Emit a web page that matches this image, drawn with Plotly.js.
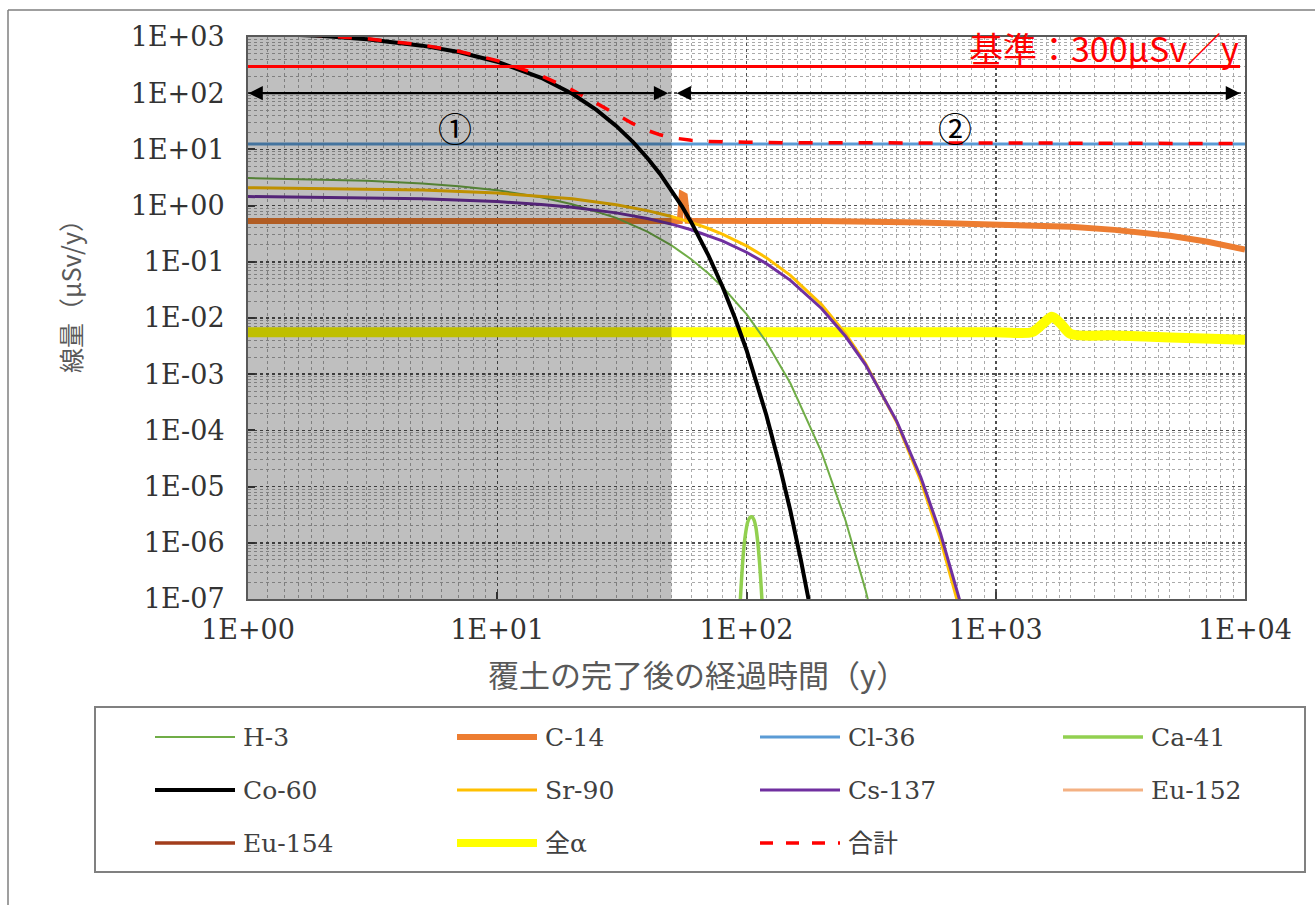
<!DOCTYPE html>
<html>
<head>
<meta charset="utf-8">
<script src="https://cdn.plot.ly/plotly-3.0.1.min.js"></script>
<style>
  html, body { margin: 0; padding: 0; background: #ffffff; }
  #chart { width: 1315px; height: 905px; }
</style>
</head>
<body>
<div id="chart"></div>
<script>
// Dose (μSv/y) versus years elapsed after completion of the soil cover.

const h3Years = [1, 2, 3, 5, 7, 10, 15, 20, 30, 40, 50, 60, 70, 80, 100, 120, 150, 200, 250, 300, 330];
const h3Dose = [3.10, 2.93, 2.77, 2.47, 2.21, 1.87, 1.41, 1.06, 0.604, 0.344, 0.196, 0.111, 0.0633, 0.036, 0.0117, 3.77e-3, 6.9e-4, 4.1e-5, 2.45e-6, 1.47e-7, 2.7e-8];

const c14Years = [1, 10, 50, 54, 55, 56.5, 58, 100, 200, 500, 1000, 2000, 3000, 5000, 7000, 10000];
const c14Dose = [0.53, 0.53, 0.53, 0.53, 1.6, 1.5, 0.54, 0.54, 0.53, 0.50, 0.47, 0.42, 0.37, 0.29, 0.23, 0.165];

const cl36Years = [1, 10000];
const cl36Dose = [12.5, 12.5];

const ca41Years = [93, 95, 97, 99, 101, 103, 105, 107, 109, 111, 113, 115, 117];
const ca41Dose = [3e-8, 1.5e-7, 6e-7, 1.4e-6, 2.3e-6, 2.8e-6, 2.9e-6, 2.6e-6, 1.9e-6, 1.0e-6, 4e-7, 1.2e-7, 3e-8];

const co60Years = [1, 2, 3, 5, 7, 10, 15, 20, 25, 30, 35, 40, 45, 50, 55, 60, 70, 80, 90, 100, 110, 120, 135, 150, 165, 180, 200];
const co60Dose = [1187, 1041, 913, 702, 539, 363, 188, 97.6, 50.5, 26.2, 13.6, 7.05, 3.65, 1.89, 0.98, 0.508, 0.136, 0.0367, 0.0099, 0.0027, 7.1e-4, 1.9e-4, 2.6e-5, 3.7e-6, 5.1e-7, 7.1e-8, 3.8e-9];

const sr90Years = [1, 3, 5, 10, 15, 20, 30, 40, 50, 60, 70, 80, 100, 120, 150, 200, 250, 300, 400, 500, 600, 700, 750];
const sr90Dose = [2.08, 1.98, 1.89, 1.67, 1.48, 1.32, 1.035, 0.813, 0.639, 0.503, 0.395, 0.311, 0.192, 0.1185, 0.0575, 0.0173, 5.2e-3, 1.56e-3, 1.41e-4, 1.27e-5, 1.14e-6, 1.03e-7, 3.1e-8];

const cs137Years = [1, 3, 5, 10, 15, 20, 30, 40, 50, 60, 70, 80, 100, 120, 150, 200, 250, 300, 400, 500, 600, 700, 750];
const cs137Dose = [1.45, 1.38, 1.32, 1.18, 1.05, 0.934, 0.742, 0.589, 0.468, 0.372, 0.295, 0.235, 0.148, 0.0934, 0.0468, 0.0148, 4.68e-3, 1.48e-3, 1.48e-4, 1.48e-5, 1.48e-6, 1.48e-7, 4.7e-8];

// Eu-152 and Eu-154 stay below the plotted range
const eu152Years = [];
const eu152Dose = [];
const eu154Years = [];
const eu154Dose = [];

const alphaYears = [1, 100, 1000, 1400, 1550, 1680, 1820, 2000, 3000, 5000, 10000];
const alphaDose = [5.6e-3, 5.6e-3, 5.6e-3, 5.6e-3, 8.0e-3, 1.05e-2, 8.0e-3, 5.2e-3, 4.9e-3, 4.5e-3, 4.1e-3];

const totalYears = [1, 2, 3, 5, 7, 10, 15, 20, 25, 30, 35, 40, 45, 50, 55, 60, 70, 80, 100, 150, 200, 300, 500, 1000, 2000, 3000, 5000, 10000];
const totalDose = [1206.7, 1060.4, 932.2, 720.7, 557.3, 380.8, 205, 113.9, 66.3, 41.6, 28.7, 21.8, 18.2, 16.2, 15.15, 14.5, 13.9, 13.65, 13.39, 13.14, 13.07, 13.04, 13.0, 12.97, 12.93, 12.88, 12.8, 12.67];

// dose criterion
const limitYears = [1, 9550];
const limitDose = [300, 300];
const limitLabel = '基準：300μSv／y';

// management periods
const phase1End = 50;
const phaseLabels = ['①', '②'];

const xTickVals = [1, 10, 100, 1000, 10000];
const xTickText = ['1E+00', '1E+01', '1E+02', '1E+03', '1E+04'];
const yTickVals = [1e-7, 1e-6, 1e-5, 1e-4, 1e-3, 1e-2, 1e-1, 1, 10, 100, 1000];
const yTickText = ['1E-07', '1E-06', '1E-05', '1E-04', '1E-03', '1E-02', '1E-01', '1E+00', '1E+01', '1E+02', '1E+03'];

const xTitle = '覆土の完了後の経過時間（y）';
const yTitle = '線量（μSv/y）';

// ---- styles ----
const series = [
  { name: 'H-3',    x: h3Years,    y: h3Dose,    color: '#70ad47', width: 2 },
  { name: 'C-14',   x: c14Years,   y: c14Dose,   color: '#ed7d31', width: 6 },
  { name: 'Cl-36',  x: cl36Years,  y: cl36Dose,  color: '#5b9bd5', width: 3 },
  { name: 'Ca-41',  x: ca41Years,  y: ca41Dose,  color: '#92d050', width: 3.5, spline: true },
  { name: 'Co-60',  x: co60Years,  y: co60Dose,  color: '#000000', width: 4 },
  { name: 'Sr-90',  x: sr90Years,  y: sr90Dose,  color: '#ffc000', width: 3 },
  { name: 'Cs-137', x: cs137Years, y: cs137Dose, color: '#7030a0', width: 3 },
  { name: 'Eu-152', x: eu152Years, y: eu152Dose, color: '#f4b183', width: 3 },
  { name: 'Eu-154', x: eu154Years, y: eu154Dose, color: '#a23d1c', width: 3.5 },
  { name: '全α',    x: alphaYears, y: alphaDose, color: '#ffff00', width: 10, spline: true },
  { name: '合計',   x: totalYears, y: totalDose, color: '#ff0000', width: 3.5, dash: '14px,16px', top: true }
];
// stacking order on the plot (later = on top)
const drawOrder = ['全α', 'C-14', 'Cl-36', 'Eu-152', 'Eu-154', 'H-3', 'Sr-90', 'Cs-137', 'Ca-41', 'Co-60', '合計'];

const L = 248, R = 1245, T = 37, B = 599;
const px = v => (v - L) / (R - L);
const py = v => (B - v) / (B - T);

const traces = drawOrder.map(n => {
  const s = series.find(e => e.name === n);
  return {
    type: 'scatter', mode: 'lines', name: s.name, x: s.x, y: s.y,
    xaxis: s.top ? 'x2' : 'x', yaxis: s.top ? 'y2' : 'y',
    line: { color: s.color, width: s.width, dash: s.dash || 'solid', shape: s.spline ? 'spline' : 'linear', smoothing: 0.8 },
    hoverinfo: 'x+y+name'
  };
});
traces.push({
  type: 'scatter', mode: 'lines', name: '基準', x: limitYears, y: limitDose,
  xaxis: 'x2', yaxis: 'y2', line: { color: '#ff0000', width: 3 }
});

function minorVals(mults, lo, hi) {
  const out = [];
  for (let k = lo; k < hi; k++) mults.forEach(m => out.push(m * Math.pow(10, k)));
  return out;
}

const serif = 'DejaVu Serif, Liberation Serif, serif';
const tickFont = { family: serif, size: 27, color: '#333333' };
const baseAxis = {
  type: 'log', showline: true, mirror: true, linecolor: '#595959', linewidth: 2,
  ticks: 'inside', ticklen: 7, tickwidth: 2, tickcolor: '#404040',
  showgrid: true, gridcolor: '#505050', gridwidth: 1.5, griddash: 'dot',
  zeroline: false, tickmode: 'array', tickfont: tickFont, fixedrange: true
};

const xaxis = Object.assign({}, baseAxis, {
  range: [0, 4], tickvals: xTickVals, ticktext: xTickText, ticklabelstandoff: 6,
  minor: { tickmode: 'array', tickvals: minorVals([1.2, 1.4, 1.6, 1.8, 2, 2.5, 3, 3.5, 4, 4.5, 5, 6, 7, 8, 9], 0, 4),
           showgrid: true, gridcolor: '#aaaaaa', gridwidth: 1, griddash: '3px,3px', ticks: '' }
});
const yaxis = Object.assign({}, baseAxis, {
  range: [-7, 3], tickvals: yTickVals, ticktext: yTickText, ticklabelstandoff: 16,
  minor: { tickmode: 'array', tickvals: minorVals([2, 3, 4, 5, 6, 7, 8, 9], -7, 3),
           showgrid: true, gridcolor: '#aaaaaa', gridwidth: 1, griddash: '3px,3px', ticks: '' }
});

const shapes = [
  // phase ① shading, laid over the nuclide curves
  { type: 'rect', xref: 'x2', yref: 'y2', x0: 1, x1: phase1End, y0: 1e-7, y1: 1e3,
    fillcolor: 'rgba(0,0,0,0.25)', line: { width: 0 }, layer: 'below' },
  // outer frame
  { type: 'line', xref: 'paper', yref: 'paper', x0: px(8), x1: px(1315), y0: py(10), y1: py(10), line: { color: '#7f7f7f', width: 1.5 } },
  { type: 'line', xref: 'paper', yref: 'paper', x0: px(8), x1: px(8), y0: py(10), y1: py(905), line: { color: '#7f7f7f', width: 1.5 } },
  // legend box
  { type: 'rect', xref: 'paper', yref: 'paper', x0: px(95), x1: px(1305), y0: py(707), y1: py(872),
    line: { color: '#808080', width: 2 }, fillcolor: 'rgba(0,0,0,0)' }
];

const cjk = 'Noto Sans CJK JP';
const note = (x, y, text, font, extra) => Object.assign({
  xref: 'paper', yref: 'paper', x: px(x), y: py(y), xanchor: 'center', yanchor: 'middle',
  showarrow: false, text: text, font: font
}, extra || {});

const annotations = [
  note(1241, 47, limitLabel, { family: cjk, size: 34, color: '#ff0000' }, { xanchor: 'right' }),
  note(455, 127, phaseLabels[0], { family: cjk, size: 34, color: '#000000' }),
  note(955, 127, phaseLabels[1], { family: cjk, size: 34, color: '#000000' }),
  note(697, 673, xTitle, { family: cjk, size: 31, color: '#595959' }),
  note(70, 290, yTitle, { family: cjk, size: 25, color: '#595959' }, { textangle: -90 })
];

// period arrows at 1E+02
const arrowY = 2;
[[0, Math.log10(48.5)], [Math.log10(52.2), Math.log10(9550)]].forEach(([a, b]) => {
  annotations.push({
    xref: 'x', yref: 'y', axref: 'x', ayref: 'y', x: b, y: arrowY, ax: a, ay: arrowY, text: '',
    showarrow: true, arrowside: 'end+start', arrowhead: 2, startarrowhead: 2,
    arrowsize: 1.3, startarrowsize: 1.3, arrowwidth: 2.2, arrowcolor: '#000000',
    standoff: 0, startstandoff: 0, borderpad: 0
  });
});

// legend: 4 columns x 3 rows
const legCols = [155, 457, 760, 1063];
const legRows = [737, 790, 843];
const legLine = 80;
series.forEach((s, i) => {
  const cx = legCols[i % 4], cy = legRows[Math.floor(i / 4)];
  shapes.push({ type: 'line', xref: 'paper', yref: 'paper', x0: px(cx), x1: px(cx + legLine), y0: py(cy), y1: py(cy),
    line: { color: s.color, width: Math.min(s.width, 8), dash: s.dash ? '13px,13px' : 'solid' } });
  annotations.push(note(cx + legLine + 6, cy, s.name,
    { family: serif + ', ' + cjk, size: 25, color: '#404040' }, { xanchor: 'left' }));
});

const layout = {
  width: 1315, height: 905, autosize: false,
  margin: { l: L, r: 1315 - R, t: T, b: 905 - B, pad: 0 },
  paper_bgcolor: '#ffffff', plot_bgcolor: 'rgba(0,0,0,0)',
  showlegend: false,
  xaxis: xaxis, yaxis: yaxis,
  xaxis2: { type: 'log', range: [0, 4], domain: [0, 1], anchor: 'y2', visible: false, fixedrange: true },
  yaxis2: { type: 'log', range: [-7, 3], domain: [0, 1], anchor: 'x2', visible: false, fixedrange: true },
  shapes: shapes, annotations: annotations
};

Plotly.newPlot('chart', traces, layout, { displayModeBar: false, staticPlot: true });
</script>
</body>
</html>
